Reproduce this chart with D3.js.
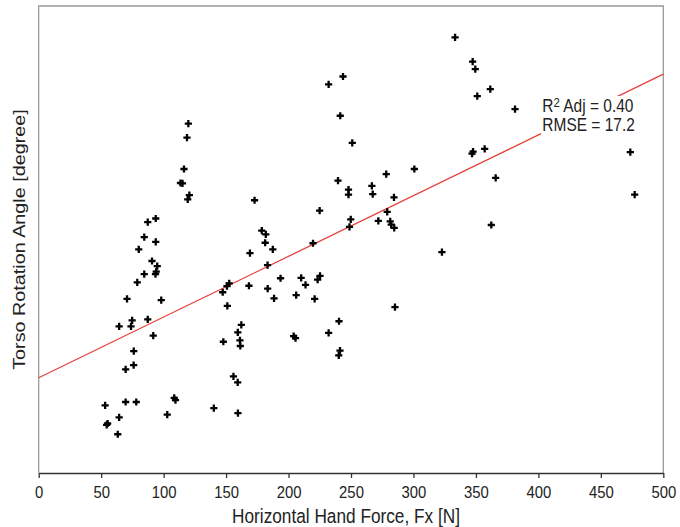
<!DOCTYPE html>
<html>
<head>
<meta charset="utf-8">
<script src="https://cdn.jsdelivr.net/npm/d3@7"></script>
<style>
  body { margin: 0; background: #fff; }
  text { font-family: "Liberation Sans", Arial, sans-serif; }
</style>
</head>
<body>
<svg id="chart" width="680" height="527"></svg>
<script>
// ---- data ----
const forceN = [
  119.8,118.7,116.3,113.5,115.1,120.6,119.3,87.3,93.7,84.5,
  93.7,80.1,90.7,94.9,84.5,93.5,94.1,78.9,70.7,98.1,
  64.4,74.8,73.9,87.3,91.7,76.1,69.6,76.0,53.2,69.6,
  78.1,64.4,54.4,55.2,63.3,102.9,108.5,109.5,140.2,159.5,
  147.3,152.5,150.7,151.0,162.2,159.4,161.1,161.4,147.8,155.9,
  159.3,169.1,168.3,172.8,178.6,181.8,181.3,187.4,219.6,183.2,
  183.3,188.4,193.6,210.1,213.6,223.3,225.2,206.1,220.9,240.4,
  232.1,204.1,205.6,241.2,240.2,333.3,243.6,232.1,241.4,251.0,
  239.6,248.0,248.0,266.7,267.4,278.2,300.7,284.4,224.9,279.0,
  249.8,248.8,271.9,281.4,282.2,284.6,322.8,285.2,347.4,349.5,
  351.1,361.5,381.3,346.9,347.7,357.0,365.8,362.3,473.6,477.1
];
const angleDeg = [
  74.8,71.8,65.1,62.1,62.0,59.5,58.6,53.7,54.5,50.5,
  49.5,47.9,45.4,44.3,42.6,42.6,43.1,40.8,37.3,37.0,
  31.4,32.7,31.4,32.9,29.4,26.1,22.2,23.1,14.5,15.2,
  15.2,11.9,10.3,10.6,8.3,12.5,16.1,15.6,13.9,12.8,
  38.7,40.6,40.0,35.8,31.7,30.1,28.4,27.2,28.1,20.7,
  19.4,47.1,40.1,58.4,51.9,51.1,49.3,47.9,49.2,44.5,
  39.5,37.4,41.7,41.8,40.3,41.4,42.2,38.1,37.3,32.5,
  30.0,29.3,28.9,26.2,25.2,93.3,84.9,83.2,76.5,70.7,
  62.6,60.7,59.6,61.5,59.7,64.0,65.1,59.0,56.2,55.9,
  54.3,52.7,54.0,53.9,53.2,52.5,47.3,35.5,88.1,86.5,
  80.7,82.2,77.9,68.4,68.8,69.4,63.2,53.1,68.7,59.6
];
const xTicks = [0, 50, 100, 150, 200, 250, 300, 350, 400, 450, 500];
const xDomain = [0, 500];
const yDomain = [0, 100];
const fitIntercept = 20.4;
const fitSlope = 0.130;
const xTitle = "Horizontal Hand Force, Fx [N]";
const yTitle = "Torso Rotation Angle [degree]";
const statR2 = "0.40";
const statRMSE = "17.2";

// ---- layout ----
const plotL = 38.7, plotR = 663.3, plotT = 6, plotB = 473;
const squeeze = 0.875;

const svg = d3.select("#chart");
const x = d3.scaleLinear().domain(xDomain).range([plotL, plotR]);
const y = d3.scaleLinear().domain(yDomain).range([plotB, plotT]);

// frame (left, top, right in gray)
svg.append("path")
  .attr("d", `M${plotL},${plotB} V${plotT} H${plotR} V${plotB}`)
  .attr("fill", "none").attr("stroke", "#9a9a9a").attr("stroke-width", 1.3);

// regression line
const fitLine = d3.line().x(d => x(d)).y(d => y(fitIntercept + fitSlope * d));
svg.append("path")
  .datum(xDomain)
  .attr("d", fitLine)
  .attr("fill", "none").attr("stroke", "#e6403a").attr("stroke-width", 1.3);

// stats box
svg.append("rect").attr("x", 541).attr("y", 96).attr("width", 100).attr("height", 41).attr("fill", "#fff");
const sg = svg.append("g").attr("transform", `translate(542.3,0) scale(${squeeze},1)`);
const t1 = sg.append("text").attr("x", 0).attr("y", 112.5).attr("font-size", 17.7).attr("fill", "#222");
t1.append("tspan").text("R");
t1.append("tspan").attr("font-size", 13).attr("dy", -5.5).text("2");
t1.append("tspan").attr("dy", 5.5).text(" Adj = " + statR2);
sg.append("text").attr("x", 0).attr("y", 131.5).attr("font-size", 17.7).attr("fill", "#222")
  .text("RMSE = " + statRMSE);

// points
const pts = forceN.map((f, i) => [f, angleDeg[i]]);
const arm = 3.6;
svg.append("g").selectAll("path").data(pts).join("path")
  .attr("d", d => `M${x(d[0]) - arm},${y(d[1])} H${x(d[0]) + arm} M${x(d[0])},${y(d[1]) - arm} V${y(d[1]) + arm}`)
  .attr("stroke", "#000").attr("stroke-width", 2.3).attr("fill", "none");

// x axis
const xa = svg.append("g").attr("transform", `translate(0,${plotB})`)
  .call(d3.axisBottom(x).tickValues(xTicks).tickFormat(d3.format("d")).tickSize(5).tickPadding(7.5).tickSizeOuter(0));
xa.select(".domain").attr("stroke", "#333").attr("stroke-width", 1.3);
xa.selectAll(".tick line").attr("stroke", "#333").attr("stroke-width", 1.3);
xa.selectAll(".tick text").attr("font-size", 17).attr("fill", "#222")
  .attr("font-family", "Liberation Sans, Arial, sans-serif")
  .attr("transform", `scale(${squeeze},1)`);

// axis titles
svg.append("text")
  .attr("transform", `translate(346,523) scale(${squeeze},1)`)
  .attr("text-anchor", "middle").attr("font-size", 19.7).attr("fill", "#222")
  .text(xTitle);
svg.append("text")
  .attr("transform", `translate(25,${(plotT + plotB) / 2}) scale(${squeeze},1) rotate(-90)`)
  .attr("text-anchor", "middle").attr("font-size", 19.8).attr("fill", "#222")
  .text(yTitle);
</script>
</body>
</html>
